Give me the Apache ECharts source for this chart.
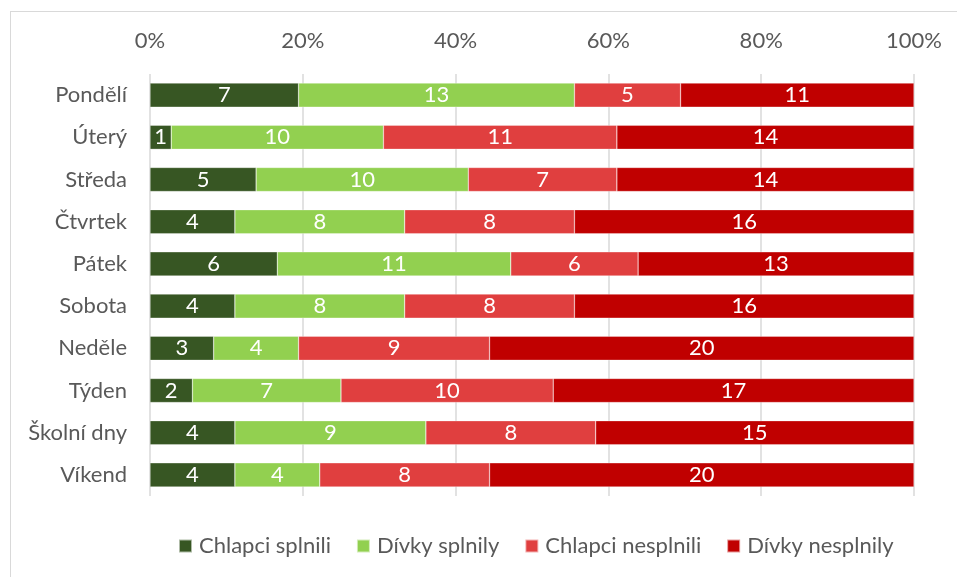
<!DOCTYPE html>
<html><head><meta charset="utf-8">
<script src="https://cdn.jsdelivr.net/npm/echarts@6/dist/echarts.min.js"></script>
<style>
html,body{margin:0;padding:0;background:#fff;}
#frame{position:absolute;left:10px;top:11px;width:1000px;height:700px;border:1px solid #d9d9d9;box-sizing:border-box;}
#c{position:absolute;left:0;top:0;width:957px;height:577px;}
</style></head>
<body><div id="frame"></div><div id="c"></div>
<script>
const categories = ['Pondělí','Úterý','Středa','Čtvrtek','Pátek','Sobota','Neděle','Týden','Školní dny','Víkend'];
const seriesNames = ['Chlapci splnili','Dívky splnily','Chlapci nesplnili','Dívky nesplnily'];
const chlapciSplnili   = [7,1,5,4,6,4,3,2,4,4];
const divkySplnily     = [13,10,10,8,11,8,4,7,9,4];
const chlapciNesplnili = [5,11,7,8,6,8,9,10,8,8];
const divkyNesplnily   = [11,14,14,16,13,16,20,17,15,20];
const tickLabels = ['0%','20%','40%','60%','80%','100%'];
const colors = ['#375623','#92d050','#e03f3f','#c00000'];

const raw = [chlapciSplnili, divkySplnily, chlapciNesplnili, divkyNesplnily];
const totals = categories.map((_, i) => raw.reduce((s, a) => s + a[i], 0));
const font = 'Lato, "Noto Sans", sans-serif';
const fs = 22;

const chart = echarts.init(document.getElementById('c'));
chart.setOption({
  animation: false,
  grid: {left: 150, right: 43, top: 74, bottom: 81},
  legend: {
    bottom: 15, left: 173, itemWidth: 13, itemHeight: 13, itemGap: 25,
    icon: 'rect',
    textStyle: {color: '#595959', fontSize: fs, fontFamily: font, padding: [0,0,0,2]},
    data: seriesNames
  },
  xAxis: {
    type: 'value', position: 'top', min: 0, max: 100, interval: 20,
    axisLine: {show: false}, axisTick: {show: false},
    splitLine: {lineStyle: {color: '#d9d9d9', width: 1.5}},
    axisLabel: {color: '#595959', fontSize: fs, fontFamily: font, margin: 22,
      formatter: v => tickLabels[Math.round(v / 20)]}
  },
  yAxis: {
    type: 'category', inverse: true, data: categories,
    axisLine: {show: false}, axisTick: {show: false},
    axisLabel: {color: '#595959', fontSize: fs, fontFamily: font, margin: 23}
  },
  series: raw.map((arr, k) => ({
    name: seriesNames[k], type: 'bar', stack: 'total', barWidth: '57%',
    itemStyle: {color: colors[k], borderColor: 'rgba(255,255,255,0.6)', borderWidth: 0.5},
    label: {show: true, color: '#fff', fontSize: fs, fontFamily: font,
      formatter: p => arr[p.dataIndex]},
    data: arr.map((v, i) => v / totals[i] * 100)
  }))
});
</script></body></html>
